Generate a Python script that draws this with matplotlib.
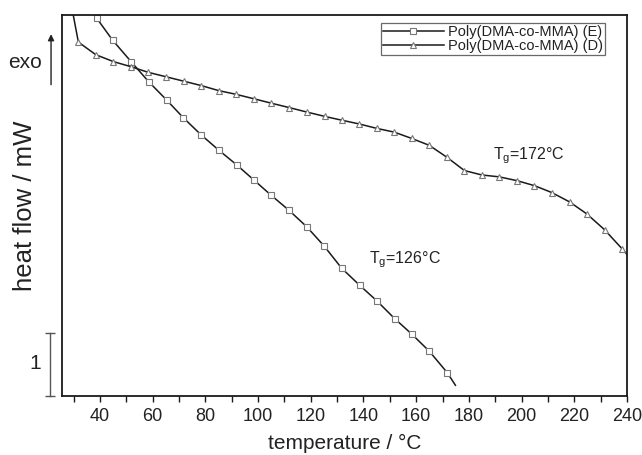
import matplotlib
matplotlib.use('Agg')
import matplotlib.pyplot as plt
import matplotlib.transforms as mtransforms
from matplotlib import font_manager

plt.rcParams['font.family'] = ['Liberation Sans', 'DejaVu Sans']
narrow = 'Liberation Sans Narrow'
names = {f.name for f in font_manager.fontManager.ttflist}
if narrow not in names:
    narrow = 'Liberation Sans'

# Poly(DMA-co-MMA) (E): temperature in °C, heat flow in mW (offset trace)
temp_E = [38.5, 38.75, 44.8, 51.8, 58.5, 65.3, 71.6, 78.3, 85.2, 91.9, 98.4,
          104.9, 111.7, 118.4, 125.1, 131.7, 138.5, 145.1, 151.8, 158.4,
          165.0, 171.8, 174.9]
flow_E = [6.10, 6.00, 5.65, 5.31, 4.99, 4.70, 4.42, 4.15, 3.90, 3.67, 3.43,
          3.19, 2.95, 2.69, 2.38, 2.03, 1.76, 1.51, 1.23, 0.98,
          0.71, 0.37, 0.17]

# Poly(DMA-co-MMA) (D)
temp_D = [29.4, 31.8, 38.4, 45.1, 51.7, 58.3, 65.0, 71.7, 78.4, 85.0, 91.7,
          98.4, 105.0, 111.8, 118.4, 125.3, 131.7, 138.4, 145.0, 151.7,
          158.3, 165.0, 171.7, 178.3, 184.9, 191.5, 198.2, 204.9, 211.5,
          218.3, 224.8, 231.5, 238.3, 240.0]
flow_D = [6.15, 5.62, 5.42, 5.31, 5.23, 5.14, 5.07, 5.00, 4.93, 4.85, 4.79,
          4.72, 4.65, 4.58, 4.51, 4.44, 4.38, 4.32, 4.25, 4.19,
          4.09, 3.98, 3.79, 3.58, 3.51, 3.48, 3.42, 3.34, 3.23,
          3.08, 2.89, 2.64, 2.33, 2.25]

label_E = 'Poly(DMA-co-MMA) (E)'
label_D = 'Poly(DMA-co-MMA) (D)'
tg_E = 126
tg_D = 172

fig = plt.figure(figsize=(6.42, 4.55), dpi=100)
ax = fig.add_axes([0.0958, 0.1297, 0.8808, 0.8373])

ax.plot(temp_E, flow_E, color='#1a1a1a', lw=1.1, marker='s', ms=3.7,
        mfc='white', mec='#777777', mew=0.8,
        markevery=list(range(1, len(temp_E) - 1)), label=label_E)
ax.plot(temp_D, flow_D, color='#1a1a1a', lw=1.1, marker='^', ms=4.2,
        mfc='white', mec='#777777', mew=0.8,
        markevery=list(range(1, len(temp_D) - 1)), label=label_D)

ax.set_xlim(25.4, 240)
ax.set_ylim(0, 6.05)
ax.set_xticks(range(40, 241, 20))
ax.set_xticks(range(30, 241, 20), minor=True)
ax.set_yticks([])
ax.tick_params(axis='x', which='both', direction='out', length=4, width=1,
               pad=5, colors='#1a1a1a')
for lab in ax.get_xticklabels():
    lab.set_fontfamily(narrow)
    lab.set_fontsize(15 if narrow != 'Liberation Sans' else 13)
    lab.set_color('#222222')
for s in ax.spines.values():
    s.set_linewidth(1.3)
    s.set_color('#1a1a1a')

ax.set_xlabel('temperature / °C', fontsize=15, labelpad=6, color='#222222')
ax.set_ylabel('heat flow / mW', fontsize=18.5, labelpad=18, color='#222222')

# Tg annotations
ax.text(189.1, 3.81, r'$\mathregular{T_g}$=%d°C' % tg_D, fontsize=11.5,
        va='center', ha='left', color='#222222')
ax.text(142.1, 2.16, r'$\mathregular{T_g}$=%d°C' % tg_E, fontsize=11.5,
        va='center', ha='left', color='#222222')

# scale bar and exo arrow left of the axis
trans = mtransforms.blended_transform_factory(ax.transAxes, ax.transData)
ax.plot([-0.0203, -0.0203], [0, 1], color='#555555', lw=1.0,
        marker='_', ms=7, mew=1.0, transform=trans, clip_on=False)
ax.text(-0.047, 0.52, '1', transform=trans, fontsize=15,
        ha='center', va='center', color='#222222')
ax.annotate('', xy=(-0.0185, 5.79), xytext=(-0.0185, 4.9),
            xycoords=trans, textcoords=trans,
            arrowprops=dict(arrowstyle='-|>', color='#222222', lw=1.0,
                            mutation_scale=9))
ax.text(-0.065, 5.30, 'exo', transform=trans, fontsize=15,
        ha='center', va='center', color='#222222')

leg = ax.legend(loc='upper right', bbox_to_anchor=(0.961, 0.979),
                borderaxespad=0, fontsize=10.5, handlelength=4.2,
                handletextpad=0.3, borderpad=0.12, labelspacing=0.0,
                frameon=True, fancybox=False, edgecolor='#444444')
leg.get_frame().set_linewidth(0.9)
for t in leg.get_texts():
    t.set_color('#222222')

fig.savefig('out.png', dpi=100)
